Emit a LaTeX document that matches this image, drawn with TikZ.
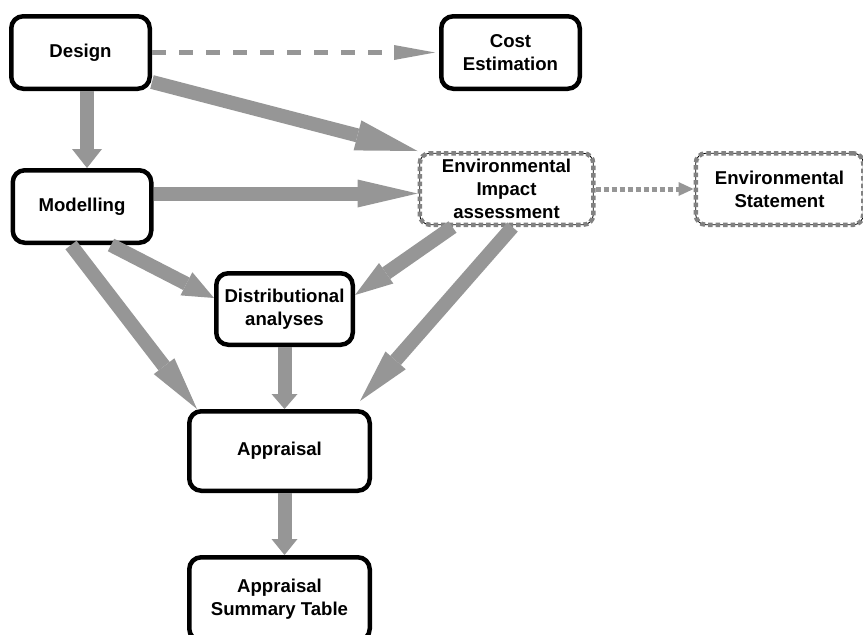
\documentclass[tikz,border=0pt]{standalone}
\usepackage{fontspec}
\setmainfont{Liberation Sans}
\usepackage{tikz}
\usetikzlibrary{arrows.meta,positioning}
\definecolor{flowgray}{RGB}{150,150,150}
\definecolor{edgegray}{RGB}{130,130,130}
\tikzstyle{stage}=[rectangle, draw, black, line width=4.5pt, rounded corners=12pt,
  fill=white, align=center, inner sep=0pt, font=\bfseries\fontsize{18.6}{23}\selectfont,
  minimum width=138.5pt, minimum height=72.5pt]
\tikzstyle{envstage}=[rectangle, draw, black, line width=0.8pt, rounded corners=10pt,
  fill=white, align=center, inner sep=0pt, outer sep=2.25pt,
  font=\bfseries\fontsize{18.6}{23}\selectfont, minimum width=173.5pt, minimum height=71.5pt,
  postaction={draw=edgegray, line width=4.5pt, dash pattern=on 4.5pt off 3pt}]
\tikzset{flow/.style 2 args={draw=flowgray, line width=14pt,
  -{Triangle[width=#1, length=#2, line width=0pt]}}}

\begin{document}
\begin{tikzpicture}[x=1pt, y=-1pt]
  \useasboundingbox (0,0) rectangle (863,635);
  % top row
  \node[stage] (design) at (80.5,52.5) {Design};
  \node[stage, right=287pt of design] (cost) {Cost\\Estimation};
  % second row
  \node[stage, below=77pt of design, xshift=1.5pt] (modelling) {Modelling};
  \node[envstage, right=264pt of modelling, yshift=17.5pt]
    (eia) {Environmental\\Impact\\assessment};
  \node[envstage, minimum width=167.5pt, right=98pt of eia]
    (envstat) {Environmental\\Statement};
  % lower part
  \node[stage, minimum width=136.5pt, minimum height=71.5pt]
    (dist) at (284.5,309) {Distributional\\analyses};
  \node[stage, minimum width=180.5pt, minimum height=79.5pt, below=62pt of dist, xshift=-5pt]
    (appraisal) {Appraisal};
  \node[stage, minimum width=180.5pt, minimum height=83.5pt, below=62pt of appraisal]
    (ast) {Appraisal\\Summary Table};
  % flows
  \draw[flow={30pt}{19pt}] ([xshift=6.5pt]design.south) -- ([xshift=5pt]modelling.north);
  \draw[flow={31pt}{62pt}] ([yshift=9pt]design.south east) -- (eia.north west);
  \draw[flow={28pt}{60pt}] ([yshift=13pt]modelling.east) -- ([yshift=-4.5pt]eia.west);
  \draw[flow={26pt}{31pt}] ([xshift=29pt]modelling.south) -- ([yshift=11pt]dist.west);
  \draw[flow={26pt}{54pt}] ([xshift=-11pt]modelling.south) -- ([xshift=10pt]appraisal.north west);
  \draw[flow={25pt}{38pt}] ([xshift=-54pt]eia.south) -- ([yshift=14pt]dist.east);
  \draw[flow={27pt}{54pt}] ([xshift=6pt]eia.south) -- ([shift={(-12pt,8pt)}]appraisal.north east);
  \draw[flow={26pt}{15pt}] (dist.south) -- (dist.south |- appraisal.north);
  \draw[flow={26pt}{16pt}] ([xshift=5pt]appraisal.south) -- ([xshift=5pt]ast.north);
  % side outputs
  \draw[draw=flowgray, line width=5pt, dash pattern=on 14pt off 13pt,
    -{Triangle[width=15pt, length=41pt, line width=0pt]}]
    (design.east) -- ([xshift=-4pt]cost.west);
  \draw[draw=flowgray, line width=5pt, dash pattern=on 5pt off 3pt,
    -{Triangle[width=14pt, length=15pt, line width=0pt]}]
    (eia.east) -- (envstat.west);
\end{tikzpicture}
\end{document}
